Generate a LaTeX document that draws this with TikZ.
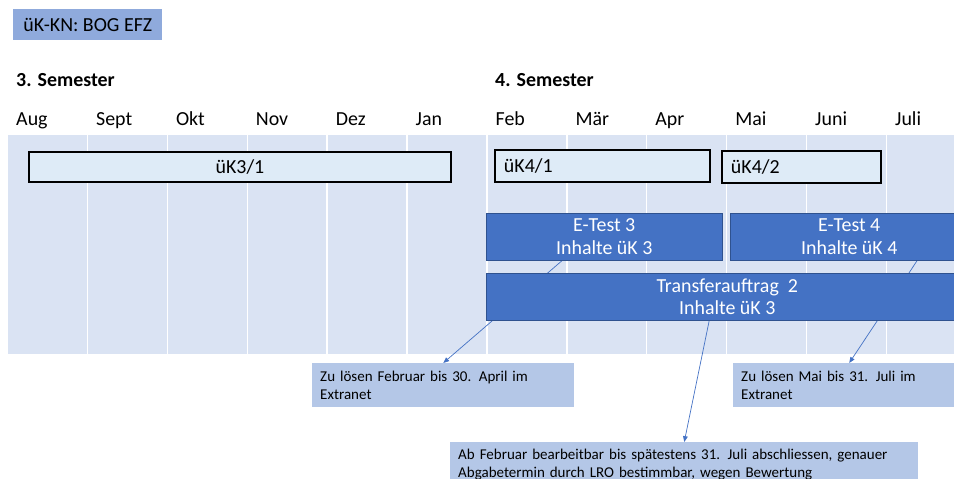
\documentclass[tikz,border=0pt]{standalone}
\usepackage{fontspec}
\setmainfont{Carlito}
\usetikzlibrary{arrows.meta}

\definecolor{bandfill}{HTML}{DAE3F3}
\definecolor{barfill}{HTML}{DEEBF7}
\definecolor{titlefill}{HTML}{8FAADC}
\definecolor{testfill}{HTML}{4472C4}
\definecolor{testline}{HTML}{2F528F}
\definecolor{notefill}{HTML}{B4C7E7}

\newcommand{\pu}{0.03cm}
\newcommand{\bigtxt}{\fontsize{17}{20}\selectfont}

\pgfdeclarelayer{back}
\pgfdeclarelayer{links}
\pgfsetlayers{back,links,main}

\begin{document}
\begin{tikzpicture}[x=0.03cm, y=-0.03cm,
        month/.style={anchor=base west, inner sep=0pt, font=\bigtxt},
        sem/.style={anchor=base west, inner sep=0pt, font=\bigtxt\bfseries},
        bar/.style={draw=black, line width=1.6pt, fill=barfill, anchor=north west, inner sep=0pt, font=\bigtxt},
        test/.style={draw=testline, fill=testfill, text=white, anchor=north west, inner sep=0pt, align=center, font=\fontsize{17}{19.5}\selectfont},
        note/.style={fill=notefill, anchor=north west, inner xsep=8*\pu, align=left, font=\fontsize{12.8}{15.3}\selectfont},
        link/.style={color=testfill, line width=0.6pt, -{Triangle[length=5pt,width=4pt]}}]
    \useasboundingbox (0,0) rectangle (954,479);

    \node (title) [fill=titlefill, anchor=north west, minimum width=149*\pu, minimum height=31*\pu, inner sep=0pt, font=\bigtxt] at (13,9) {üK-KN: BOG EFZ};

    \node (sem3) [sem] at (16,87) {3. Semester};
    \node (sem4) [sem] at (495,87) {4. Semester};

    \foreach \m [count=\i] in {Aug,Sept,Okt,Nov,Dez,Jan,Feb,Mär,Apr,Mai,Juni,Juli}
        \node (m\i) [month] at ({16+(\i-1)*79.9},125) {\m};

    \begin{pgfonlayer}{back}
        \fill [bandfill] (8,135) rectangle (954,354);
        \foreach \i in {1,...,11}
            \draw [white, line width=1.2pt] ({7.5+\i*79.9},135) -- ({7.5+\i*79.9},354);
    \end{pgfonlayer}

    \node (uk31) [bar, minimum width=422*\pu, minimum height=30*\pu] at (28,151) {üK3/1};
    \node (uk41) [bar, minimum width=215*\pu, minimum height=32*\pu, inner xsep=9*\pu, text width=197*\pu, align=left] at (494,149) {üK4/1};
    \node (uk42) [bar, minimum width=159*\pu, minimum height=32*\pu, inner xsep=9*\pu, text width=141*\pu, align=left] at (721,150) {üK4/2};

    \node (et3) [test, minimum width=236*\pu, minimum height=47*\pu] at (486,213) {E-Test 3\\Inhalte üK 3};
    \node (et4) [test, minimum width=238*\pu, minimum height=47*\pu] at (730,213) {E-Test 4\\Inhalte üK 4};
    \node (ta2) [test, minimum width=482*\pu, minimum height=47*\pu] at (486,273) {Transferauftrag~ 2\\Inhalte üK 3};

    \node (n1) [note, text width=246*\pu, minimum height=44*\pu] at (312,363) {Zu lösen Februar bis 30. April im\\Extranet};
    \node (n2) [note, text width=246*\pu, minimum height=44*\pu] at (733,363) {Zu lösen Mai bis 31. Juli im\\Extranet};
    \node (n3) [note, text width=452*\pu, inner ysep=7*\pu] at (450,442) {Ab Februar bearbeitbar bis spätestens 31. Juli abschliessen, genauer\\Abgabetermin durch LRO bestimmbar, wegen Bewertung};

    \begin{pgfonlayer}{links}
        \path [link]
            ([xshift=-42*\pu]et3.south) edge (n1.north)
            ([xshift=68*\pu]et4.south) edge ([xshift=-15*\pu]n2.north)
            ([xshift=-18*\pu]ta2.south) edge (n3.north);
    \end{pgfonlayer}
\end{tikzpicture}
\end{document}
